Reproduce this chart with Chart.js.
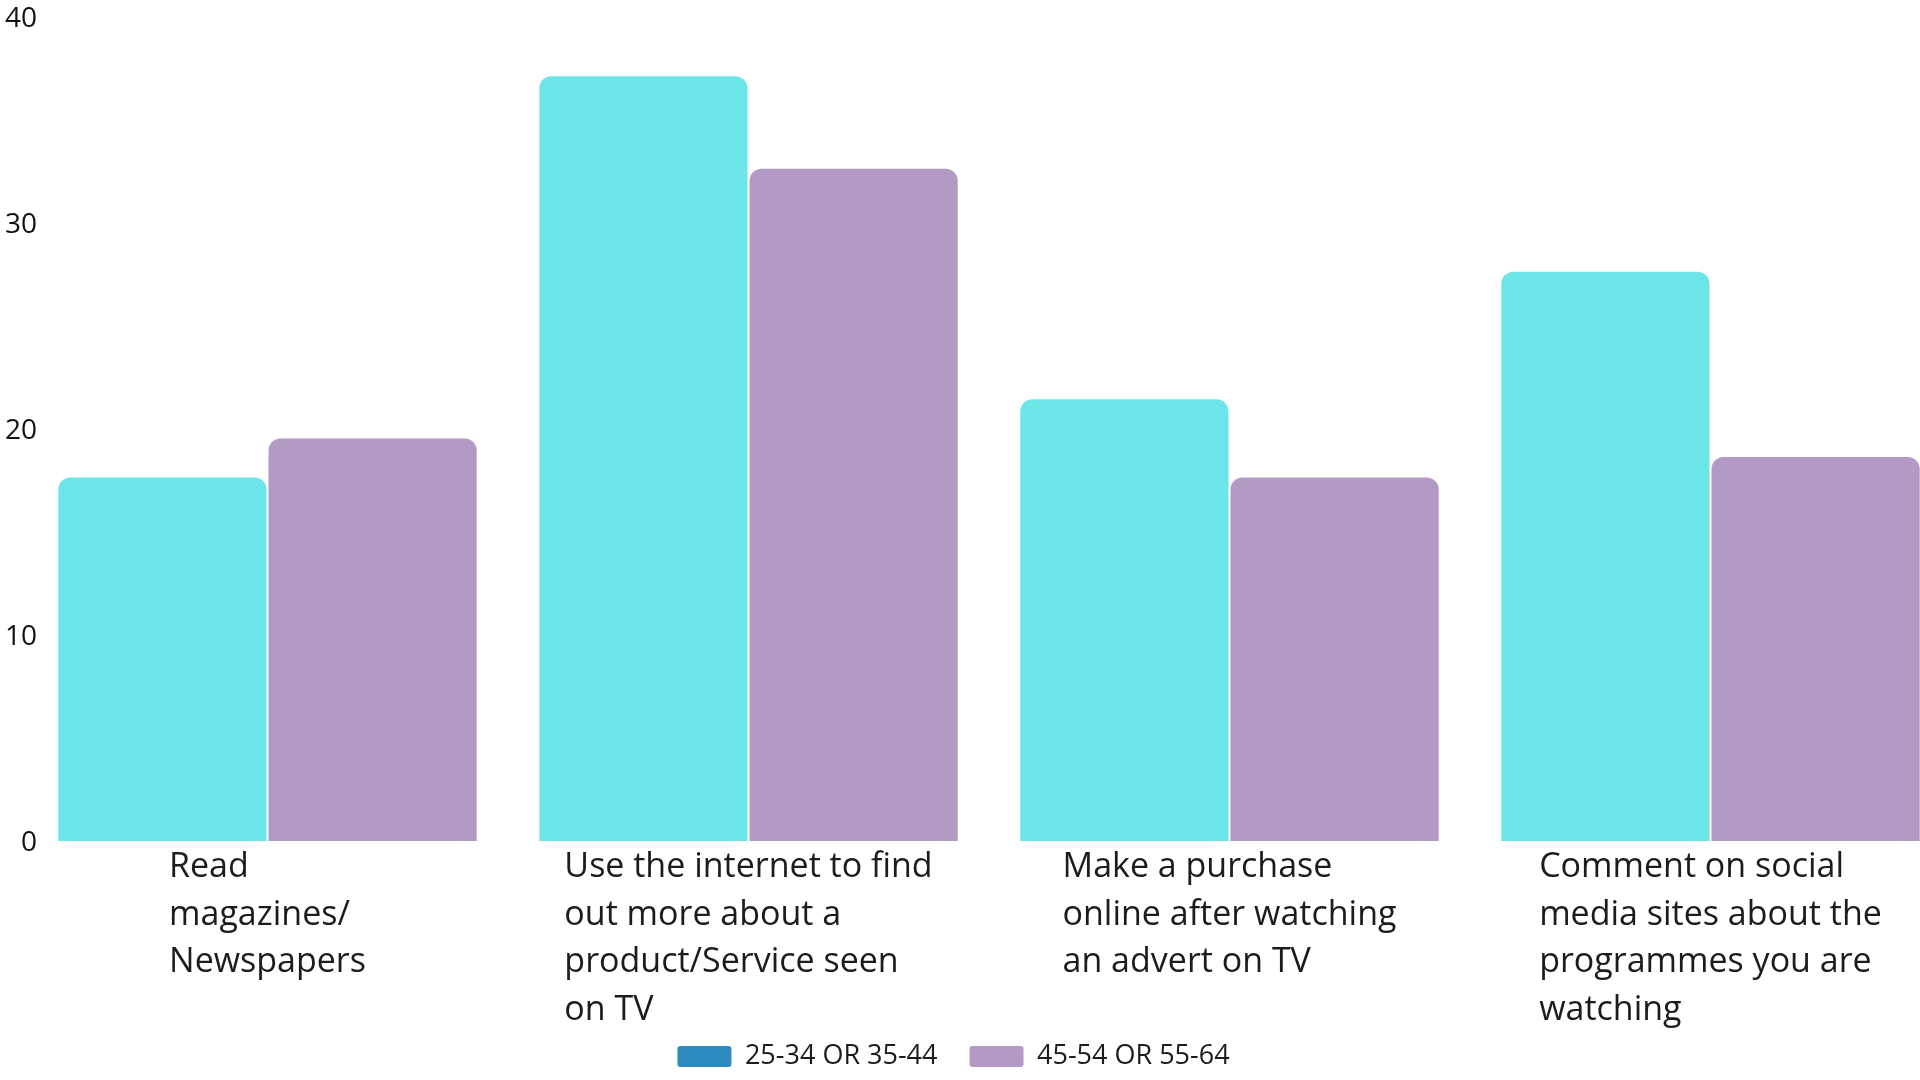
<!DOCTYPE html>
<html>
<head>
<meta charset="utf-8">
<script src="https://cdn.jsdelivr.net/npm/chart.js@4/dist/chart.umd.min.js"></script>
<style>
  html, body { margin: 0; padding: 0; background: #ffffff; overflow: hidden; width: 1920px; height: 1080px; }
  #wrap { position: absolute; left: 0; top: 0; width: 1951px; height: 1080px; }
</style>
</head>
<body>
<div id="wrap"><canvas id="c" width="1951" height="1080"></canvas></div>
<script>
// ---- data ----
const categoryLines = [
  ["Read", "magazines/", "Newspapers"],
  ["Use the internet to find", "out more about a", "product/Service seen", "on TV"],
  ["Make a purchase", "online after watching", "an advert on TV"],
  ["Comment on social", "media sites about the", "programmes you are", "watching"]
];
const seriesNames = ["25-34 OR 35-44", "45-54 OR 55-64"];
const series1 = [17.7, 37.2, 21.5, 27.7];
const series2 = [19.6, 32.7, 17.7, 18.7];
const yTicks = [0, 10, 20, 30, 40];

// ---- style ----
const FONT = "'Open Sans', 'Noto Sans', sans-serif";
const barColors = ["#6CE5E8", "#B39AC4"];
const legendColors = ["#2E8BC0", "#B39AC4"];

// draws the category labels (centred block, left-aligned lines) and the y tick labels
const labelPlugin = {
  id: 'axisLabels',
  afterDraw(chart) {
    const { ctx, chartArea } = chart;
    const x = chart.scales.x;
    const y = chart.scales.y;
    ctx.save();
    ctx.font = "500 34px " + FONT;
    ctx.fillStyle = "#1c1c1c";
    ctx.textAlign = "left";
    ctx.textBaseline = "alphabetic";
    categoryLines.forEach((lines, i) => {
      const cx = x.getPixelForValue(i);
      const w = Math.max(...lines.map(l => ctx.measureText(l).width));
      lines.forEach((l, j) => {
        ctx.fillText(l, cx - w / 2, chartArea.bottom + 36 + j * 47.5);
      });
    });
    ctx.font = "500 28px " + FONT;
    ctx.fillStyle = "#111111";
    ctx.textAlign = "right";
    ctx.textBaseline = "middle";
    yTicks.forEach(v => {
      ctx.fillText(String(v), 37, y.getPixelForValue(v) + 2);
    });
    ctx.restore();
  }
};

new Chart(document.getElementById('c'), {
  type: 'bar',
  data: {
    labels: categoryLines.map(l => l.join(' ')),
    datasets: [
      { label: seriesNames[0], data: series1, backgroundColor: barColors[0] },
      { label: seriesNames[1], data: series2, backgroundColor: barColors[1] }
    ]
  },
  options: {
    responsive: false,
    animation: false,
    devicePixelRatio: 1,
    layout: { padding: { left: -44, right: 0, top: 17.5, bottom: 0 } },
    datasets: {
      bar: {
        categoryPercentage: 0.874,
        barPercentage: 1.0,
        borderWidth: 1,
        borderColor: "#ffffff",
        borderSkipped: 'start',
        borderRadius: { topLeft: 13, topRight: 13, bottomLeft: 0, bottomRight: 0 }
      }
    },
    scales: {
      x: {
        grid: { display: false, drawTicks: false },
        border: { display: false },
        ticks: { display: false },
        afterFit(scale) { scale.height = 170; }
      },
      y: {
        min: 0,
        max: 40,
        afterBuildTicks(scale) { scale.ticks = yTicks.map(v => ({ value: v })); },
        grid: { display: false, drawTicks: false },
        border: { display: false },
        ticks: { display: false },
        afterFit(scale) { scale.width = 71; }
      }
    },
    plugins: {
      tooltip: { enabled: false },
      legend: {
        position: 'bottom',
        labels: {
          boxWidth: 54,
          boxHeight: 21,
          padding: 32,
          useBorderRadius: true,
          borderRadius: 3,
          color: "#1c1c1c",
          font: { family: FONT, size: 27, weight: '500' },
          generateLabels(chart) {
            const items = Chart.defaults.plugins.legend.labels.generateLabels(chart);
            items.forEach((it, i) => {
              it.fillStyle = legendColors[i];
              it.strokeStyle = legendColors[i];
              it.lineWidth = 0;
            });
            return items;
          }
        }
      }
    }
  },
  plugins: [labelPlugin]
});
</script>
</body>
</html>
